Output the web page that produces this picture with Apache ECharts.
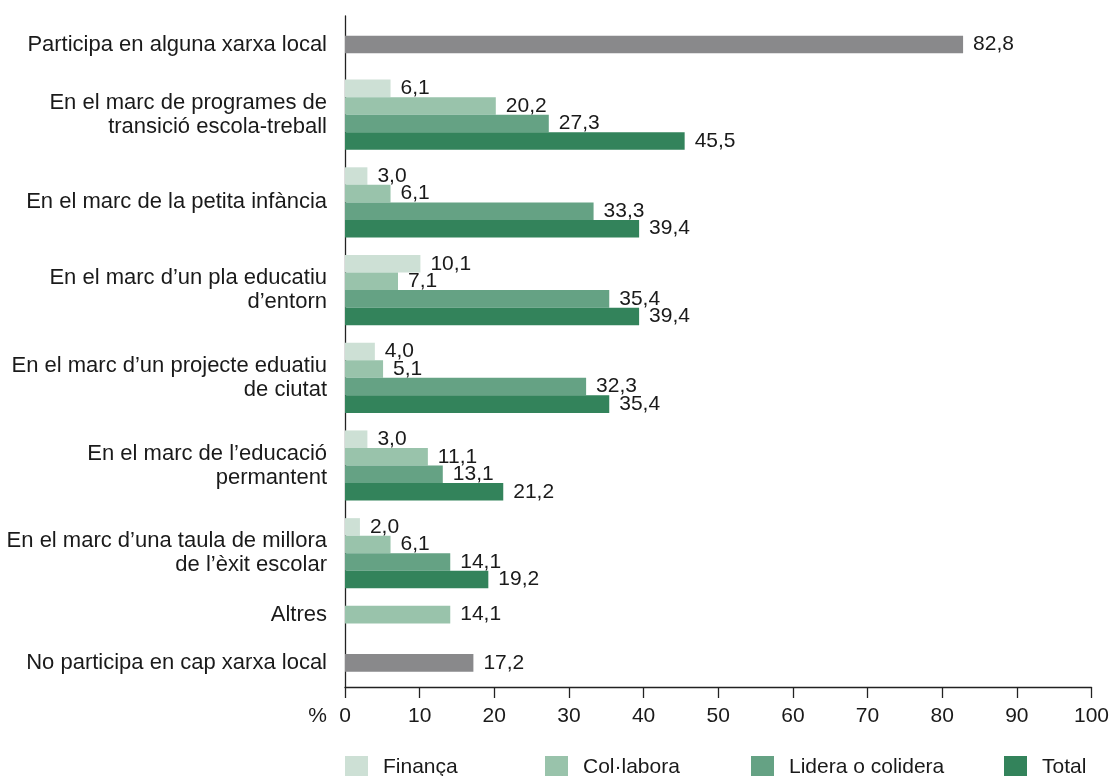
<!DOCTYPE html>
<html>
<head>
<meta charset="utf-8">
<script src="https://cdn.jsdelivr.net/npm/echarts@6/dist/echarts.min.js"></script>
<style>
  html, body { margin: 0; padding: 0; background: #ffffff; }
  #chart { width: 1112px; height: 776px; }
</style>
</head>
<body>
<div id="chart"></div>
<script>
// Rows of the chart, top to bottom
const rowLabels = [
  'Participa en alguna xarxa local',
  'En el marc de programes de\ntransició escola-treball',
  'En el marc de la petita infància',
  'En el marc d\u2019un pla educatiu\nd\u2019entorn',
  'En el marc d\u2019un projecte eduatiu\nde ciutat',
  'En el marc de l\u2019educació\npermantent',
  'En el marc d\u2019una taula de millora\nde l\u2019èxit escolar',
  'Altres',
  'No participa en cap xarxa local'
];

// Percentages per row (null = no bar in that row)
const financa     = [null, 6.1, 3.0, 10.1, 4.0, 3.0, 2.0, null, null];
const colabora    = [null, 20.2, 6.1, 7.1, 5.1, 11.1, 6.1, 14.1, null];
const lidera      = [null, 27.3, 33.3, 35.4, 32.3, 13.1, 14.1, null, null];
const total       = [null, 45.5, 39.4, 39.4, 35.4, 21.2, 19.2, null, null];
const participacio = [82.8, null, null, null, null, null, null, null, 17.2];

const xTicks = { min: 0, max: 100, interval: 10 };

const FONT = '"Liberation Sans", Arial, Helvetica, sans-serif';
const TEXT = '#1a1a1a';
const AXIS = '#222222';

const seriesDefs = [
  { name: 'Finança', values: financa, color: '#cde0d5', legend: true },
  { name: 'Col·labora', values: colabora, color: '#99c3ab', legend: true },
  { name: 'Lidera o colidera', values: lidera, color: '#65a284', legend: true },
  { name: 'Total', values: total, color: '#33835b', legend: true },
  { name: 'Participació', values: participacio, color: '#89898b', legend: false }
];

// Vertical layout: the category axis is split into quarter-bar slots,
// each bar is 4 slots tall; gaps between rows are given in slots.
const SLOTS_PER_BAR = 4;
const gapsAfterRow = [6, 4, 4, 4, 4, 4, 4, 7];
const firstCenter = 6;
const totalSlots = 153;

const slotLabel = new Array(totalSlots).fill('');
const slotData = seriesDefs.map(() => new Array(totalSlots).fill('-'));
let center = firstCenter;
rowLabels.forEach((label, r) => {
  const present = [];
  seriesDefs.forEach((s, i) => { if (s.values[r] != null) present.push(i); });
  const first = center;
  present.forEach((si, k) => {
    slotData[si][first + k * SLOTS_PER_BAR] = seriesDefs[si].values[r];
  });
  const last = first + (present.length - 1) * SLOTS_PER_BAR;
  slotLabel[(first + last) / 2] = label;
  if (r < gapsAfterRow.length) center = last + SLOTS_PER_BAR + gapsAfterRow[r];
});
const slots = Array.from({ length: totalSlots }, (_, i) => String(i));

const fmt = v => Number(v).toFixed(1).replace('.', ',');

const series = seriesDefs.map((s, i) => ({
  name: s.name,
  type: 'bar',
  data: slotData[i],
  barWidth: (SLOTS_PER_BAR * 100) + '%',
  barGap: '-100%',
  itemStyle: { color: s.color },
  label: {
    show: true,
    position: 'right',
    distance: 10,
    formatter: p => fmt(p.value),
    fontFamily: FONT,
    fontSize: 21,
    color: TEXT
  },
  emphasis: { disabled: true }
}));

const legendLefts = [345, 545, 751, 1004];
const legends = seriesDefs.filter(s => s.legend).map((s, i) => ({
  data: [s.name],
  left: legendLefts[i],
  top: 756,
  padding: 0,
  icon: 'rect',
  itemWidth: 23,
  itemHeight: 23,
  selectedMode: false,
  textStyle: { fontFamily: FONT, fontSize: 21, color: TEXT, padding: [0, 0, 0, 10] }
}));

const chart = echarts.init(document.getElementById('chart'), null, { renderer: 'canvas' });
chart.setOption({
  animation: false,
  backgroundColor: '#ffffff',
  textStyle: { fontFamily: FONT },
  grid: { left: 345, right: 19, top: 16, bottom: 89, containLabel: false },
  legend: legends,
  xAxis: {
    type: 'value',
    min: xTicks.min,
    max: xTicks.max,
    interval: xTicks.interval,
    name: '%',
    nameLocation: 'start',
    nameGap: 18,
    nameTextStyle: {
      fontFamily: FONT, fontSize: 21, color: TEXT,
      verticalAlign: 'top', padding: [19, 0, 0, 0]
    },
    axisLine: { show: true, lineStyle: { color: AXIS, width: 1.3 } },
    axisTick: { show: true, length: 11, lineStyle: { color: AXIS, width: 1.3 } },
    axisLabel: { fontFamily: FONT, fontSize: 21, color: TEXT, margin: 19 },
    splitLine: { show: false }
  },
  yAxis: {
    type: 'category',
    data: slots,
    inverse: true,
    axisLine: { show: true, lineStyle: { color: AXIS, width: 1.3 } },
    axisTick: { show: false },
    axisLabel: {
      interval: 0,
      margin: 18,
      fontFamily: FONT,
      fontSize: 22,
      lineHeight: 24,
      padding: [4, 0, 0, 0],
      color: TEXT,
      formatter: (v, idx) => slotLabel[idx]
    },
    splitLine: { show: false }
  },
  series: series
});
</script>
</body>
</html>
